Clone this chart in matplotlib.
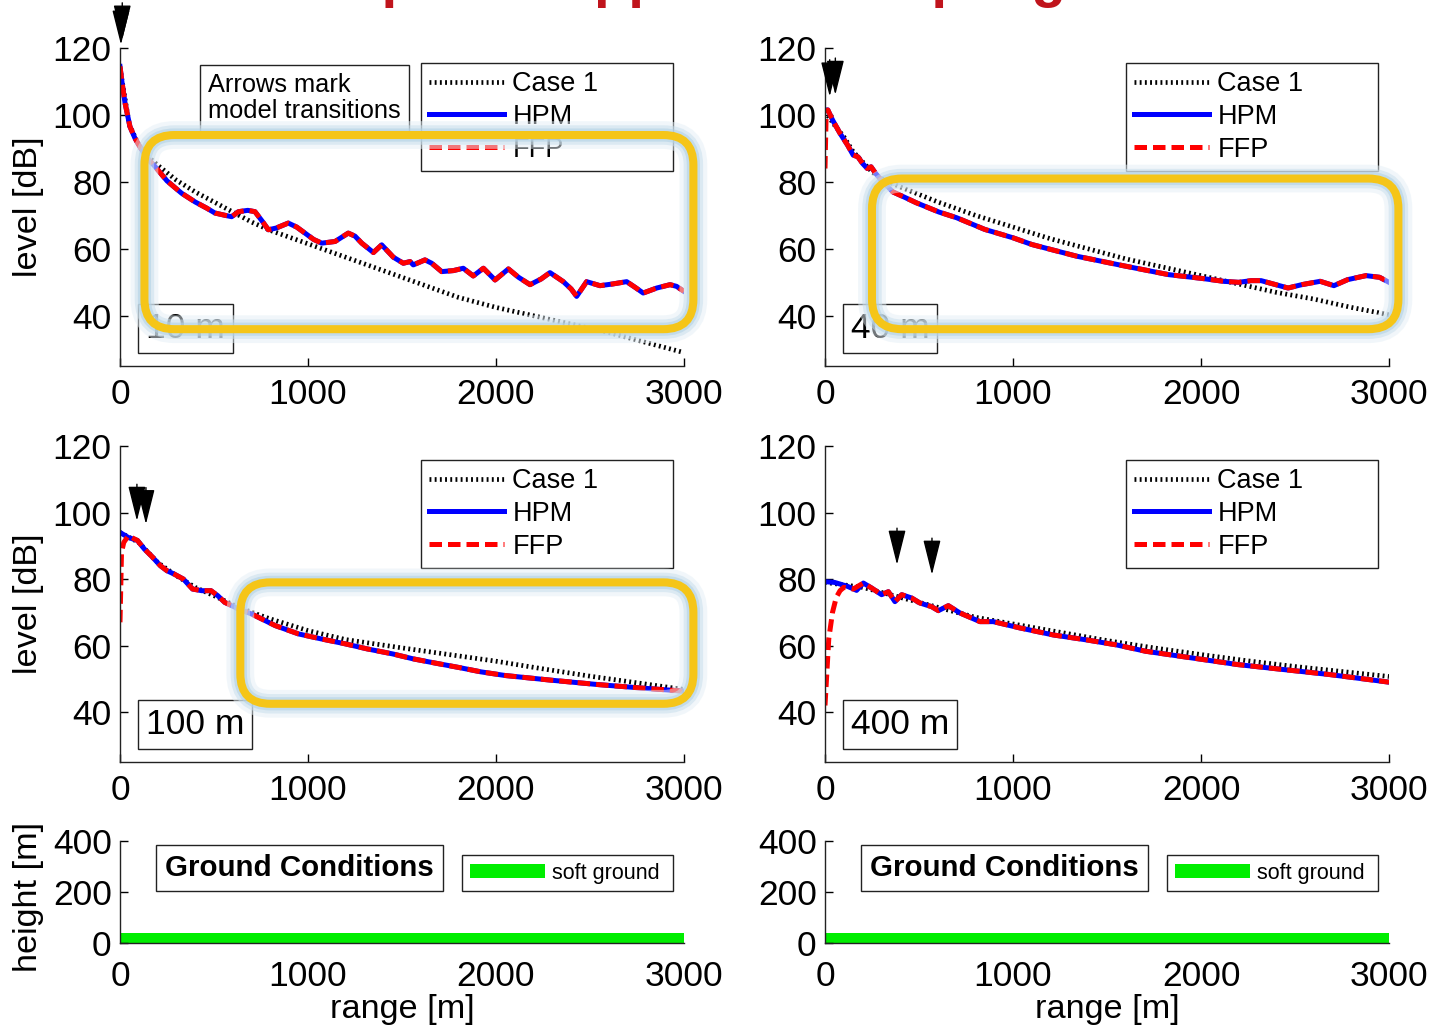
import matplotlib
matplotlib.use('Agg')
import matplotlib.pyplot as plt
from matplotlib import font_manager
from matplotlib.patches import FancyBboxPatch, Patch
from matplotlib.transforms import IdentityTransform

W, H = 1429, 1032

# narrow sans if we have it, otherwise plain Liberation a bit smaller
installed = {f.name for f in font_manager.fontManager.ttflist}
if 'Liberation Sans Narrow' in installed:
    FONT, fs = 'Liberation Sans Narrow', 1.0
else:
    FONT, fs = 'Liberation Sans', 0.85
plt.rcParams['font.family'] = [FONT, 'DejaVu Sans']

# ---------------- data ----------------
# source height 10 m
r10_hpm = [0, 10, 27, 53, 80, 115, 150, 186, 250, 328, 400, 460, 505, 560, 594, 630, 680, 718,
           760, 789, 830, 895, 940, 984, 1030, 1073, 1144, 1214, 1250, 1286, 1348, 1392, 1454,
           1507, 1543, 1560, 1622, 1658, 1711, 1773, 1826, 1879, 1933, 1995, 2066, 2120, 2181,
           2240, 2287, 2358, 2400, 2429, 2482, 2553, 2620, 2695, 2740, 2783, 2855, 2926, 2960, 3000]
L10_hpm = [114.5, 110, 103.5, 96.5, 93, 89.6, 86.8, 84.6, 80.3, 76.6, 74, 72.2, 70.7, 70, 69.6, 71.1,
           71.5, 71.1, 68, 65.7, 66.2, 67.7, 66.5, 64.7, 62.8, 61.7, 62.2, 64.7, 63.8, 61.7, 58.9,
           61.2, 57.5, 55.7, 56.2, 55.2, 56.7, 55.7, 53.2, 53.5, 54.2, 51.9, 54.2, 50.7, 54, 51.5,
           49.3, 51, 52.9, 50.2, 48, 45.8, 50.2, 49, 49.5, 50.2, 48.5, 46.8, 48.3, 49.3, 48.8, 47.3]
r10_ffp = r10_hpm
L10_ffp = L10_hpm
r10_case = [0, 50, 100, 150, 200, 300, 400, 500, 600, 700, 800, 900, 1000, 1200, 1400, 1600,
            1800, 2000, 2200, 2400, 2600, 2800, 3000]
L10_case = [114, 97, 91, 87.5, 85, 80.5, 77, 74, 71, 68, 65.5, 63.5, 61.5, 57.5, 53.5, 49.5,
            45.5, 42.5, 40, 37.5, 35, 32, 29]

# source height 40 m
r40_hpm = [0, 15, 40, 80, 120, 150, 175, 200, 225, 245, 270, 300, 361, 420, 484, 606, 700, 850,
           1000, 1100, 1339, 1583, 1827, 2000, 2120, 2200, 2267, 2320, 2365, 2463, 2536, 2634,
           2707, 2780, 2878, 2950, 3000]
L40_hpm = [101.5, 101.5, 98.5, 94.5, 91, 88, 87.5, 85.5, 84, 84.5, 82.5, 80.5, 77, 75.5, 73.8, 71,
           69.3, 65.8, 63.3, 61.3, 57.8, 55, 52.3, 51.2, 50.3, 50, 50.5, 50.5, 49.8, 48.3, 49.3,
           50.3, 49, 50.8, 52, 51.5, 50]
r40_ffp = [0, 6, 15, 40, 80, 120, 150, 175, 200, 225, 245, 270, 300, 361, 420, 484, 606, 700, 850,
           1000, 1100, 1339, 1583, 1827, 2000, 2120, 2200, 2267, 2320, 2365, 2463, 2536, 2634,
           2707, 2780, 2878, 2950, 3000]
L40_ffp = [84, 100, 101.5, 98.5, 94.5, 91, 88, 87.5, 85.5, 84, 84.5, 82.5, 80.5, 77, 75.5, 73.8, 71,
           69.3, 65.8, 63.3, 61.3, 57.8, 55, 52.3, 51.2, 50.3, 50, 50.5, 50.5, 49.8, 48.3, 49.3,
           50.3, 49, 50.8, 52, 51.5, 50]
r40_case = [0, 50, 100, 150, 200, 250, 300, 400, 600, 800, 1000, 1200, 1400, 1600, 1800, 2000,
            2200, 2400, 2600, 2800, 3000]
L40_case = [101, 97, 93.5, 89, 86, 83, 81, 78.5, 74, 70, 66.5, 63, 60, 57, 54.5, 52, 49.5, 47,
            45, 42.5, 40.3]

# source height 100 m
r100_hpm = [0, 30, 44, 93, 130, 166, 215, 250, 288, 337, 386, 435, 484, 520, 557, 631, 700, 826,
            950, 1071, 1200, 1315, 1450, 1560, 1680, 1804, 1920, 2049, 2293, 2538, 2782, 3000]
L100_hpm = [94, 93, 92.5, 91.6, 89, 87, 84, 82.5, 81.5, 80, 77, 76.5, 76.5, 75, 73, 71, 69.5, 66,
            63.5, 62, 60.5, 59, 57.5, 56, 54.7, 53.4, 52.1, 51, 49.6, 48.3, 47.2, 46.3]
r100_ffp = [0, 8, 20, 44, 93, 130, 166, 215, 250, 288, 337, 386, 435, 484, 520, 557, 631, 700, 826,
            950, 1071, 1200, 1315, 1450, 1560, 1680, 1804, 1920, 2049, 2293, 2538, 2782, 3000]
L100_ffp = [67, 88, 91, 93, 91.6, 89, 87, 84, 82.5, 81.5, 80, 77, 76.5, 76.5, 75, 73, 71, 69.5, 66,
            63.5, 62, 60.5, 59, 57.5, 56, 54.7, 53.4, 52.1, 51, 49.6, 48.3, 47.2, 46.3]
r100_case = [0, 100, 200, 300, 400, 500, 600, 700, 800, 1000, 1200, 1500, 1750, 2000, 2250, 2500,
             2750, 3000]
L100_case = [94, 91, 85, 81, 77.5, 75, 72.3, 70, 68, 64.5, 61.8, 59.3, 57.3, 55.3, 53, 50.8,
             48.8, 46.8]

# source height 400 m
r400_hpm = [0, 50, 80, 120, 168, 204, 248, 301, 337, 372, 408, 461, 505, 567, 603, 656, 718, 824,
            895, 1037, 1214, 1392, 1551, 1705, 1950, 2194, 2438, 2683, 3000]
L400_hpm = [79.2, 79, 78.5, 77.8, 76.6, 78.8, 77.3, 75.3, 76.2, 73.2, 75.3, 74.3, 72.8, 71.7, 70.5,
            72, 69.8, 67.2, 67.2, 65.3, 63.2, 61.7, 60.2, 58.3, 56.3, 54.3, 52.8, 51.3, 49]
r400_ffp = [0, 10, 20, 40, 60, 80, 100, 150, 204, 248, 301, 337, 372, 408, 461, 505, 567, 603, 656,
            718, 824, 895, 1037, 1214, 1392, 1551, 1705, 1950, 2194, 2438, 2683, 3000]
L400_ffp = [42, 52, 62, 70, 74.5, 76.5, 77.5, 77, 78.8, 77.3, 75.3, 76.2, 73.2, 75.3, 74.3, 72.8,
            71.7, 70.5, 72, 69.8, 67.2, 67.2, 65.3, 63.2, 61.7, 60.2, 58.3, 56.3, 54.3, 52.8,
            51.3, 49]
r400_case = [0, 200, 400, 600, 800, 1000, 1250, 1500, 1750, 2000, 2250, 2500, 2750, 3000]
L400_case = [79, 77.5, 74.5, 71.5, 68.5, 66.5, 64, 61.5, 59.3, 57.3, 55.4, 53.7, 52.2, 50.7]

# model transitions (range) and the level where each arrow tip sits
trans10, tip10 = [5, 12], [121, 122.5]
trans40, tip40 = [25, 55], [105.5, 106]
trans100, tip100 = [90, 138], [97.5, 96.5]
trans400, tip400 = [383, 569], [84.3, 81.3]

# ground profile
ground_r = [0, 3000]
ground_h = [0, 0]
ground_layer = 40

heights = ['10 m', '40 m', '100 m', '400 m']
series_names = ['Case 1', 'HPM', 'FFP']
# highlighted regions: (range from, range to, level from, level to)
highlight = {0: (130, 3050, 36, 94), 1: (250, 3050, 36, 81), 2: (640, 3050, 42.5, 79)}

panels = [
    (r10_case, L10_case, r10_hpm, L10_hpm, r10_ffp, L10_ffp, trans10, tip10),
    (r40_case, L40_case, r40_hpm, L40_hpm, r40_ffp, L40_ffp, trans40, tip40),
    (r100_case, L100_case, r100_hpm, L100_hpm, r100_ffp, L100_ffp, trans100, tip100),
    (r400_case, L400_case, r400_hpm, L400_hpm, r400_ffp, L400_ffp, trans400, tip400),
]


def rect(x0, ytop, x1, ybot):
    return [x0 / W, 1 - ybot / H, (x1 - x0) / W, (ybot - ytop) / H]


def style_axes(ax):
    for s in ['top', 'right']:
        ax.spines[s].set_visible(False)
    for s in ['left', 'bottom']:
        ax.spines[s].set_color('#222222')
        ax.spines[s].set_linewidth(1.0)
    ax.tick_params(direction='in', length=6, width=1, labelsize=30 * fs, colors='black',
                   top=False, right=False)
    ax.tick_params(axis='y', pad=6)
    ax.tick_params(axis='x', pad=9)


fig = plt.figure(figsize=(W / 100, H / 100), dpi=100)

# title line, mostly above the top edge
fig.text(294 / W, 1 + 4 / H, 'Empirical approach coupling', color='#C0141C',
         fontsize=40.5, fontweight='bold', ha='left', va='baseline',
         family=['Liberation Sans', 'DejaVu Sans'])

level_rects = [rect(120, 48, 684, 366), rect(825, 48, 1389, 366),
               rect(120, 446, 684, 762), rect(825, 446, 1389, 762)]
legend_x = [421, 1126, 421, 1126]
legend_y = [63, 63, 460, 460]

axes = []
for i, (cr, cl, hr, hl, fr, fl, tr, tl) in enumerate(panels):
    ax = fig.add_axes(level_rects[i])
    axes.append(ax)
    ax.plot(cr, cl, color='black', lw=3.4, ls=(0, (0.4, 0.7)), dash_capstyle='butt',
            label=series_names[0])
    ax.plot(hr, hl, color='#0000FF', lw=3.6, label=series_names[1])
    ax.plot(fr, fl, color='#FF0000', lw=3.6, ls=(0, (2.5, 1.2)), label=series_names[2])
    ax.set_xlim(0, 3000)
    ax.set_ylim(25, 120)
    ax.set_xticks([0, 1000, 2000, 3000])
    ax.set_yticks([40, 60, 80, 100, 120])
    style_axes(ax)

    for r, tip in zip(tr, tl):
        ax.annotate('', xy=(r, tip), xytext=(r, tip + 11), annotation_clip=False,
                    arrowprops=dict(arrowstyle='-|>,head_length=1.0,head_width=0.25',
                                    color='black', lw=1.0, shrinkA=0, shrinkB=0,
                                    mutation_scale=22))

    lx0 = legend_x[i] / W
    ltop = 1 - legend_y[i] / H
    leg = ax.legend(loc='upper left', bbox_to_anchor=(lx0, ltop - 0.1, 252 / W, 0.1),
                    bbox_transform=fig.transFigure, mode='expand', borderaxespad=0,
                    fontsize=19.5, handlelength=2.75, handletextpad=0.32, labelspacing=0.25,
                    borderpad=0.3, fancybox=False, framealpha=1, edgecolor='#222222')
    leg.get_frame().set_linewidth(1.0)

    ax.text(0.046, 0.118, heights[i], transform=ax.transAxes, fontsize=30 * fs,
            ha='left', va='center',
            bbox=dict(boxstyle='square,pad=0.22', facecolor='white', edgecolor='#222222', lw=1.0))

    if i % 2 == 0:
        ax.set_ylabel('level [dB]', fontsize=29 * fs)
        ax.yaxis.set_label_coords(-0.135, 0.5)

axes[0].text(0.156, 0.843, 'Arrows mark\nmodel transitions', transform=axes[0].transAxes,
             fontsize=18.3, ha='left', va='center', linespacing=1.1,
             bbox=dict(boxstyle='square,pad=0.32', facecolor='white', edgecolor='#222222', lw=1.0))

# ground panels
ground_rects = [rect(120, 841, 684, 943), rect(825, 841, 1389, 943)]
for j, gr in enumerate(ground_rects):
    ax = fig.add_axes(gr)
    ax.fill_between(ground_r, ground_h, [h + ground_layer for h in ground_h],
                    color='#00EE00', lw=0, label='soft ground')
    ax.set_xlim(0, 3000)
    ax.set_ylim(0, 400)
    ax.set_xticks([0, 1000, 2000, 3000])
    ax.set_yticks([0, 200, 400])
    style_axes(ax)
    ax.tick_params(axis='x', pad=12, length=0)
    ax.set_xlabel('range [m]', fontsize=29 * fs)
    ax.xaxis.set_label_coords(0.5, -0.5)
    if j == 0:
        ax.set_ylabel('height [m]', fontsize=29 * fs)
        ax.yaxis.set_label_coords(-0.135, 0.45)
    ax.text(0.08, 0.735, 'Ground Conditions', transform=ax.transAxes, fontsize=25 * fs,
            fontweight='bold', ha='left', va='center',
            bbox=dict(boxstyle='square,pad=0.3', facecolor='white', edgecolor='#222222', lw=1.0))
    gx0 = (462 + 705 * j) / W
    gtop = 1 - 855 / H
    leg = ax.legend(handles=[Patch(facecolor='#00EE00', edgecolor='none', label='soft ground')],
                    loc='upper left', bbox_to_anchor=(gx0, gtop - 0.05, 211 / W, 0.05),
                    bbox_transform=fig.transFigure, mode='expand', borderaxespad=0,
                    fontsize=15.5, handlelength=3.5, handleheight=0.6, handletextpad=0.35,
                    borderpad=0.35, fancybox=False, framealpha=1, edgecolor='#222222')
    leg.get_frame().set_linewidth(1.0)

# highlighted regions: glowing yellow rounded frames drawn over the panels
for i, (r0, r1, l0, l1) in highlight.items():
    (x0, y0), (x1, y1) = axes[i].transData.transform([(r0, l0), (r1, l1)])
    for lw, col, a in [(20, '#e4eff6', 0.5), (14, '#c9dfec', 0.55), (9.5, '#b2d2e6', 0.6),
                       (5.8, '#F5C518', 1.0)]:
        box = FancyBboxPatch((x0, y0), x1 - x0, y1 - y0,
                             boxstyle='round,pad=0,rounding_size=30',
                             transform=IdentityTransform(), facecolor='none',
                             edgecolor=col, lw=lw, alpha=a, zorder=5)
        fig.add_artist(box)

fig.savefig('out.png', dpi=100)
